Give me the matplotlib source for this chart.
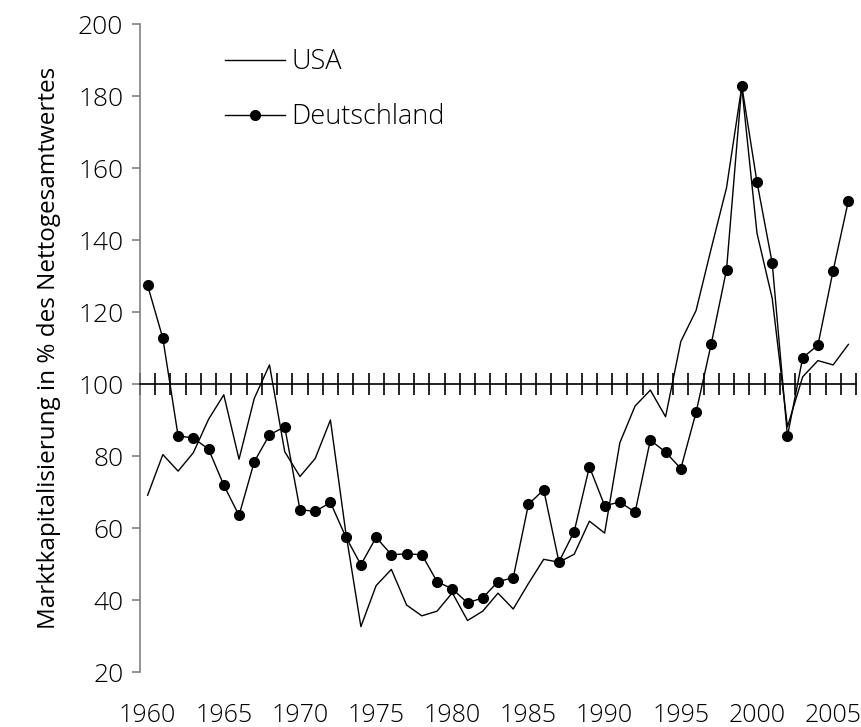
import numpy as np
import matplotlib
matplotlib.use("Agg")
import matplotlib.pyplot as plt

plt.rcParams['font.family'] = ['Open Sans', 'DejaVu Sans']
plt.rcParams['font.weight'] = 'light'

years = np.arange(1960, 2007)
usa = [69.1, 80.4, 75.8, 80.9, 90.2, 97.0, 79.1, 96.0, 105.3, 81.2,
       74.3, 79.3, 90.0, 59.0, 32.6, 44.0, 48.5, 38.6, 35.6, 36.9,
       42.0, 34.3, 36.9, 41.9, 37.5, 44.6, 51.3, 50.5, 52.7, 61.9,
       58.6, 83.7, 93.9, 98.3, 90.9, 111.8, 120.4, 137.7, 154.5, 182.6,
       141.9, 123.8, 88.1, 102.0, 106.5, 105.3, 111.0]
deutschland = [127.4, 112.7, 85.6, 85.0, 81.9, 71.9, 63.5, 78.4, 85.9, 88.1,
               65.1, 64.6, 67.1, 57.6, 49.8, 57.4, 52.6, 52.8, 52.6, 45.1,
               43.1, 39.2, 40.6, 45.1, 46.2, 66.6, 70.6, 50.6, 59.0, 77.0,
               66.2, 67.2, 64.4, 84.4, 81.1, 76.5, 92.1, 111.2, 131.7, 182.9,
               156.1, 133.6, 85.5, 107.3, 110.8, 131.5, 150.9]
y_ticks = list(range(20, 201, 20))
label_years = list(range(1960, 2006, 5))

fig = plt.figure(figsize=(8.61, 7.27), dpi=100)
ax = fig.add_axes([140/861, 1-672/727, 716/861, 648/727])

x = np.arange(len(years))
ax.plot(x, usa, color='black', lw=1.0, label='USA')
ax.plot(x, deutschland, color='black', lw=1.0, marker='o', markersize=7,
        label='Deutschland')

ax.set_xlim(-0.5, len(years) - 0.5)
ax.set_ylim(20, 200)

# category axis crossing at 100
ax.spines['bottom'].set_position(('data', 100))
ax.spines['bottom'].set_color('black')
ax.spines['bottom'].set_linewidth(1.2)
ax.set_xticks(np.arange(-0.5, len(years)))
ax.tick_params(axis='x', direction='inout', length=16, width=1.2,
               labelbottom=False, color='black')

sec = ax.secondary_xaxis('bottom')
sec.set_xticks([y - years[0] for y in label_years])
sec.set_xticklabels([str(y) for y in label_years])
sec.tick_params(length=0, pad=22, labelsize=18)
sec.spines['bottom'].set_visible(False)

ax.spines['top'].set_visible(False)
ax.spines['right'].set_visible(False)
ax.spines['left'].set_color('#808080')
ax.spines['left'].set_linewidth(1.2)
ax.set_yticks(y_ticks)
ax.tick_params(axis='y', direction='out', length=6, width=1.2, color='#808080',
               labelsize=19, pad=6)
ax.set_ylabel('Marktkapitalisierung in % des Nettogesamtwertes', fontsize=17.5,
              labelpad=12)

ax.legend(loc='upper left', bbox_to_anchor=(0.085, 1.0), frameon=False,
          fontsize=19.5, handlelength=2.2, handletextpad=0.25, labelspacing=1.0)

fig.savefig('out.png', dpi=100)
